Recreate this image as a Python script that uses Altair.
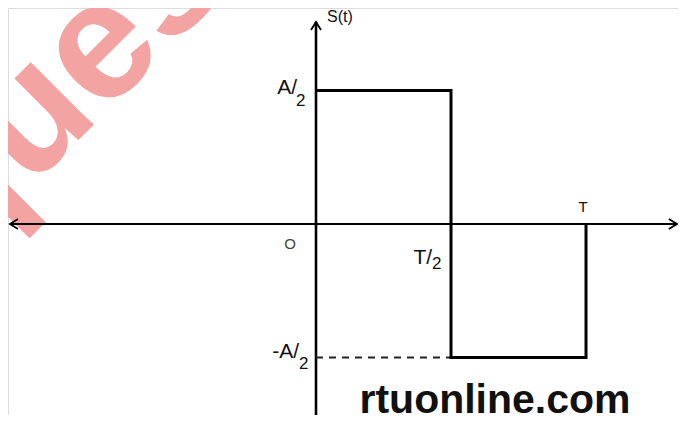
import altair as alt
import pandas as pd

# ---- data (T = 1, A = 1) ----
sig_t = [0.0, 0.5, 0.5, 1.0, 1.0]
sig_s = [0.5, 0.5, -0.5, -0.5, 0.0]
dash_t = [0.0, 0.5]
dash_s = [-0.5, -0.5]
haxis_t = [-1.1333, 1.337]
vaxis_s = [0.7566, -0.76]

# arrowheads: (arrow id, point order, t, s)
arrow_id = ["L", "L", "L", "R", "R", "R", "U", "U", "U"]
arrow_t = [-1.1037, -1.1333, -1.1037, 1.307, 1.337, 1.307, -0.0185, 0.0, 0.0185]
arrow_s = [0.0187, 0.0, -0.0187, 0.0187, 0.0, -0.0187, 0.7266, 0.7566, 0.7266]

watermark = "ques"
site = "rtuonline.com"

X = alt.Scale(domain=[-1.1407, 1.3407], nice=False, zero=False)
Y = alt.Scale(domain=[-0.7154, 0.809], nice=False, zero=False)


def xy(df):
    return dict(
        x=alt.X("t:Q", scale=X, axis=None),
        y=alt.Y("s:Q", scale=Y, axis=None),
    )


def text_layer(rows, **mark):
    df = pd.DataFrame(rows, columns=["t", "s", "label"])
    base = dict(font="Liberation Sans", color="#111111", clip=True)
    base.update(mark)
    return alt.Chart(df).mark_text(**base).encode(text="label:N", **xy(df))


wm = text_layer([(-0.948, 0.51, watermark)], fontSize=168, fontWeight="bold",
                color="#F4A3A3", angle=315, align="center", baseline="middle")

sig_df = pd.DataFrame({"t": sig_t, "s": sig_s, "i": list(range(len(sig_t)))})
signal = alt.Chart(sig_df).mark_line(color="#000000", strokeWidth=3, clip=True).encode(
    order="i:Q", **xy(sig_df))

dash_df = pd.DataFrame({"t": dash_t, "s": dash_s, "i": [0, 1]})
dashed = alt.Chart(dash_df).mark_line(color="#222222", strokeWidth=2, strokeDash=[7, 6], clip=True).encode(
    order="i:Q", **xy(dash_df))

hax_df = pd.DataFrame({"t": haxis_t, "s": [0.0, 0.0], "i": [0, 1]})
hax = alt.Chart(hax_df).mark_line(color="#000000", strokeWidth=2.2, clip=True).encode(
    order="i:Q", **xy(hax_df))

vax_df = pd.DataFrame({"t": [0.0, 0.0], "s": vaxis_s, "i": [0, 1]})
vax = alt.Chart(vax_df).mark_line(color="#000000", strokeWidth=2.6, clip=True).encode(
    order="i:Q", **xy(vax_df))

arr_df = pd.DataFrame({"g": arrow_id, "i": [0, 1, 2] * 3, "t": arrow_t, "s": arrow_s})
arrows = alt.Chart(arr_df).mark_line(color="#000000", strokeWidth=1.8, clip=True).encode(
    order="i:Q", detail="g:N", **xy(arr_df))

labels_big = text_layer([
    (-0.070, 0.509, "A/"),
    (0.430, -0.127, "T/"),
    (-0.063, -0.480, "-A/"),
], fontSize=21, align="right", baseline="middle")

labels_sub = text_layer([
    (-0.074, 0.461, "2"),
    (0.430, -0.150, "2"),
    (-0.063, -0.524, "2"),
], fontSize=17, align="left", baseline="middle")

labels_small = text_layer([
    (0.0407, 0.776, "S(t)"),
], fontSize=16, align="left", baseline="middle")

label_o = text_layer([(-0.096, -0.075, "O")], fontSize=15, align="center",
                     baseline="middle", color="#444444")
label_T = text_layer([(0.989, 0.062, "T")], fontSize=15, align="center", baseline="middle")

site_txt = text_layer([(0.663, -0.708, site)], fontSize=41, fontWeight="bold",
                      align="center", baseline="alphabetic", font="Liberation Sans")

chart = alt.layer(
    wm, hax, vax, arrows, dashed, signal,
    labels_big, labels_sub, labels_small, label_o, label_T, site_txt,
).properties(
    width=670, height=407, padding=0,
    autosize=alt.AutoSizeParams(type="none"),
).configure_view(strokeWidth=0, stroke="transparent").configure(background="#ffffff")

chart.save("out.html", embed_options={"renderer": "svg", "actions": False})
